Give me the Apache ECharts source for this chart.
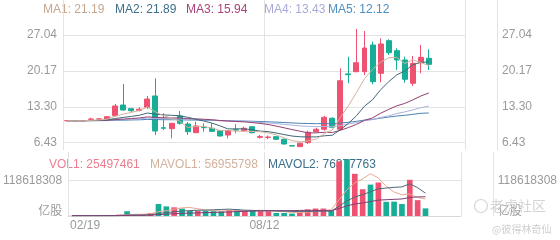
<!DOCTYPE html>
<html><head><meta charset="utf-8">
<script src="https://cdn.jsdelivr.net/npm/echarts@6/dist/echarts.min.js"></script>
<style>html,body{margin:0;padding:0;background:#fff}#c{width:560px;height:240px}</style>
</head><body><div id="c"></div>
<script>
// weekly categories
const dates = ['02/19','02/26','03/04','03/11','03/18','03/25','04/01','04/08','04/15','04/22',
  '04/29','05/06','05/13','05/20','05/27','06/03','06/10','06/17','06/24','07/01',
  '07/08','07/15','07/22','07/29','08/05','08/12','08/19','08/26','09/02','09/09',
  '09/16','09/23','09/30','10/07','10/14','10/21','10/28','11/04','11/11','11/18',
  '11/25','12/02','12/09','12/16','12/23','12/30','01/06','01/13','01/20','01/27'];

const opens  = [10.64,10.64,10.64,10.90,10.96,10.91,11.60,13.64,12.94,12.60,13.20,15.37,9.30,9.11,11.54,10.01,8.34,9.35,9.19,8.73,7.90,8.92,8.73,9.49,7.45,7.45,7.58,7.08,5.85,5.67,6.43,8.54,9.00,11.10,9.00,19.60,20.02,20.02,25.13,19.71,25.95,24.04,22.26,17.80,21.74,22.58];
const closes = [10.64,10.64,10.64,10.96,10.98,11.41,13.45,12.69,12.55,12.85,14.79,8.67,9.19,10.14,10.14,8.54,9.63,9.30,8.60,7.71,8.73,8.86,9.19,8.34,7.60,7.50,7.08,6.18,5.80,6.32,8.42,8.99,11.29,9.38,18.29,19.45,21.74,24.55,18.10,25.32,23.65,22.26,18.56,21.62,22.77,21.43];
const lows   = [10.64,10.64,10.64,10.75,10.85,10.85,11.50,12.55,12.30,12.40,12.90,7.90,8.86,7.27,9.90,7.90,8.34,8.54,8.50,7.60,7.27,8.23,8.50,8.20,7.20,7.10,7.00,6.10,5.70,5.60,6.18,8.40,8.73,9.19,8.86,17.80,19.90,19.39,17.61,17.99,23.21,20.34,17.90,17.28,19.71,20.34];
const highs  = [10.64,10.64,10.64,11.20,11.10,11.50,13.84,17.66,13.10,13.20,15.37,18.75,12.06,10.20,12.50,10.40,10.45,10.14,10.14,8.80,8.86,9.95,9.50,9.60,7.90,7.80,7.70,7.20,5.90,6.50,8.73,9.30,11.54,11.30,20.67,22.89,28.19,27.80,25.76,26.41,26.22,24.49,22.89,23.02,25.13,24.30];

// moving averages
const ma1 = [10.64,10.64,10.64,10.70,10.77,10.93,11.49,11.90,12.22,12.59,13.27,12.31,11.61,11.13,10.59,9.34,9.53,9.55,9.24,8.76,8.79,8.64,8.62,8.57,8.54,8.30,7.94,7.34,6.83,6.58,6.76,7.14,8.16,8.88,11.27,13.48,16.03,18.68,20.43,21.83,22.67,22.78,21.58,22.28,21.77,21.19];
const ma2 = [10.64,10.64,10.64,10.67,10.71,10.78,11.06,11.27,11.46,11.68,12.10,11.90,11.75,11.67,11.59,11.30,10.92,10.58,10.19,9.67,9.07,9.08,9.08,8.90,8.65,8.55,8.29,7.98,7.70,7.56,7.53,7.54,7.75,7.86,8.93,10.12,11.59,13.42,14.65,16.55,18.08,19.40,20.13,21.35,21.80,21.89];
const ma3 = [10.64,10.64,10.64,10.66,10.67,10.71,10.85,10.95,11.05,11.16,11.37,11.27,11.20,11.17,11.15,11.04,10.99,10.92,10.82,10.68,10.58,10.49,10.42,10.29,10.12,9.92,9.61,9.28,8.94,8.62,8.30,8.31,8.42,8.38,8.79,9.33,9.94,10.70,11.18,12.06,12.80,13.47,13.94,14.61,15.36,15.94];
const ma4 = [10.64,10.64,10.64,10.65,10.66,10.69,10.78,10.85,10.91,10.99,11.13,11.06,11.01,10.99,10.98,10.91,10.87,10.83,10.76,10.66,10.60,10.54,10.49,10.42,10.31,10.21,10.09,9.94,9.78,9.64,9.56,9.51,9.53,9.48,9.72,9.99,10.27,10.66,10.85,11.26,11.56,12.01,12.32,12.70,13.13,13.43];
const ma5 = [10.64,10.64,10.64,10.65,10.65,10.66,10.71,10.74,10.78,10.81,10.88,10.85,10.83,10.82,10.81,10.77,10.76,10.73,10.70,10.65,10.62,10.59,10.57,10.53,10.48,10.43,10.37,10.29,10.21,10.14,10.10,10.07,10.09,10.06,10.19,10.34,10.52,10.76,10.88,11.12,11.34,11.53,11.67,11.85,12.05,12.12];

// volumes in millions of shares
const VOL_UNIT = 1e6;
const volumes = [1,1,1,1.5,1.5,2,4.5,16,3,3.5,10,40,32,29,25,17,17,17,16,16,20,22,16,20,16,16,10,10,8,14,22,25,25,18,183,189,141,89.5,105,112,47.5,48,40,121,53,25.497461];
const mavol1 = [1,1,1,1.1,1.2,1.4,2.1,5.1,5.4,5.8,7.4,14.5,17.7,22.9,27.2,28.6,24,21,18.4,16.6,17.2,18.2,18,18.8,18.8,18,15.6,14.4,12,11.6,12.8,15.8,18.8,20.8,54.6,88,111.2,124.1,141.5,127.3,99,80.4,70.5,73.7,61.9,56.96];
const mavol2 = [1,1,1,1.05,1.1,1.2,1.55,3.05,3.25,3.5,4.4,8.3,11.4,14.2,16.5,18,19.3,19.4,20.7,21.9,22.9,21.1,19.5,18.6,17.7,17.6,16.9,16.2,15.4,15.2,15.4,15.7,16.6,16.4,33.1,50.4,63.5,71.5,81.2,91,93.5,95.8,97.3,107.6,94.6,76.38];
const mavol3 = [1,1,1,1.03,1.05,1.1,1.3,2.0,2.1,2.25,2.7,4.65,6.2,7.6,8.8,9.6,10.4,11.2,11.95,12.7,13.65,14.7,15.45,16.4,17.1,17.8,18.1,17.8,18.0,18.55,19.15,18.4,18.05,17.5,25.4,34,40.2,43.8,48.3,53.1,54.45,55.75,56.95,62,63.85,64.3];

const priceTicks = [6.43, 13.30, 20.17, 27.04];
const volTicks = [0, 118.618308];
const maNames = ['MA1','MA2','MA3','MA4','MA5'];
const maLast = ['21.19','21.89','15.94','13.43','12.12'];
const volNames = ['VOL1','MAVOL1','MAVOL2'];
const volLast = ['25497461','56955798','76377763'];

const FONT = '"Liberation Sans", Arial, "Noto Sans CJK SC", sans-serif';
const GRID_LINE = '#e3e3e3';
const UP = '#ef5271', DOWN = '#17ad96';
const LABEL = '#9a9a9a';
const maColors = ['#d3b29c','#3f6878','#943f70','#aab4de','#4b82b5'];
const maTextColors = ['#c6a78f','#3d6f8a','#a8437a','#a8aad8','#4b8fc4'];
const volTextColors = ['#ec7d8f','#d2b29b','#3b6f8a'];
const volLineColors = ['#e9a98f','#4c6878','#7c3f73'];

const chart = echarts.init(document.getElementById('c'));

const candleData = opens.map((o, i) => [o, closes[i], lows[i], highs[i]]);
const volData = volumes.map((v, i) => ({
  value: v, itemStyle: { color: closes[i] >= opens[i] ? UP : DOWN }
}));

function priceAxis(pos) {
  return {
    type: 'value', gridIndex: 0, position: pos, offset: pos === 'right' ? 32 : 0,
    min: 5.03, max: 33.74, scale: true,
    axisLine: { show: pos === 'right', lineStyle: { color: GRID_LINE } },
    axisTick: { show: false, customValues: priceTicks },
    axisLabel: { customValues: priceTicks, formatter: v => v.toFixed(2), color: LABEL,
      fontSize: 12, fontFamily: FONT, margin: pos === 'right' ? 5 : 6 },
    splitLine: { show: pos === 'left', lineStyle: { color: GRID_LINE } }
  };
}
function volAxis(pos) {
  return {
    type: 'value', gridIndex: 1, position: pos, offset: pos === 'right' ? 32 : 0,
    min: 0, max: 214,
    axisLine: { show: pos === 'right', lineStyle: { color: GRID_LINE } },
    axisTick: { show: false, customValues: volTicks },
    axisLabel: { customValues: volTicks,
      formatter: v => v === 0 ? '{u|亿股}' : String(Math.round(v * VOL_UNIT)),
      color: LABEL, fontSize: 12, fontFamily: FONT, margin: pos === 'right' ? 5 : 6,
      rich: { u: { color: LABEL, fontSize: 12, fontFamily: FONT, padding: [0, 0, 9, 0] } } },
    splitLine: { show: pos === 'left', lineStyle: { color: GRID_LINE } }
  };
}

const graphics = [];
const maX = [43, 115, 186, 264, 328];
maNames.forEach((n, k) => graphics.push({ type: 'text', z: 0,
  style: { text: n + ': ' + maLast[k], x: maX[k], y: 10, fill: maTextColors[k],
    font: '12px ' + FONT, verticalAlign: 'middle' } }));
const volX = [49, 150, 268];
volNames.forEach((n, k) => graphics.push({ type: 'text', z: 0,
  style: { text: n + ': ' + volLast[k], x: volX[k], y: 165, fill: volTextColors[k],
    font: '12px ' + FONT, verticalAlign: 'middle' } }));
graphics.push({ type: 'circle', z: 100, shape: { cx: 481, cy: 206, r: 6.5 },
  style: { fill: 'none', stroke: '#d6d6d6', lineWidth: 1.2 } });
graphics.push({ type: 'text', z: 100, style: { text: '老虎社区', x: 490, y: 206, fill: '#d4d4d4',
  font: '14px "Noto Sans CJK SC"', verticalAlign: 'middle' } });
graphics.push({ type: 'text', z: 100, style: { text: '@彼得林奇仙', x: 492, y: 229, fill: '#cfcfcf',
  font: '10px "Noto Sans CJK SC"', verticalAlign: 'middle' } });

const series = [{
  type: 'candlestick', xAxisIndex: 0, yAxisIndex: 0, data: candleData, barWidth: '68%',
  itemStyle: { color: UP, color0: DOWN, borderColor: UP, borderColor0: DOWN, borderWidth: 1 },
  z: 3
}];
[ma1, ma2, ma3, ma4, ma5].forEach((d, k) => series.push({
  type: 'line', xAxisIndex: 0, yAxisIndex: 0, data: d, showSymbol: false, smooth: false,
  lineStyle: { width: 1, color: maColors[k] }, z: 4 - k * 0.1
}));
series.push({ type: 'bar', xAxisIndex: 1, yAxisIndex: 2, data: volData, barWidth: '72%', z: 3 });
[mavol1, mavol2, mavol3].forEach((d, k) => series.push({
  type: 'line', xAxisIndex: 1, yAxisIndex: 2, data: d, showSymbol: false,
  lineStyle: { width: 1, color: volLineColors[k] }, z: 4
}));

const xRich = {
  L: { color: LABEL, fontSize: 12, fontFamily: FONT, padding: [0, 0, 0, 26] },
  R: { color: LABEL, fontSize: 12, fontFamily: FONT, padding: [0, 8, 0, 0] }
};

chart.setOption({
  animation: false,
  backgroundColor: '#fff',
  textStyle: { fontFamily: FONT },
  grid: [
    { left: 63, right: 95, top: 0, height: 150, containLabel: false },
    { left: 63, right: 95, top: 152, height: 64, containLabel: false }
  ],
  xAxis: [
    { type: 'category', gridIndex: 0, data: dates, boundaryGap: true,
      axisLine: { show: false }, axisTick: { show: false }, axisLabel: { show: false },
      splitLine: { show: true, interval: 24, lineStyle: { color: GRID_LINE } } },
    { type: 'category', gridIndex: 1, data: dates, boundaryGap: true,
      axisLine: { show: true, lineStyle: { color: '#d8d8d8' } }, axisTick: { show: false },
      axisLabel: { interval: 24, color: LABEL, fontSize: 12, fontFamily: FONT, margin: 4,
        formatter: (v, i) => i === 0 ? '{L|' + v + '}' : '{R|' + v + '}', rich: xRich },
      splitLine: { show: true, interval: 24, lineStyle: { color: GRID_LINE } } }
  ],
  yAxis: [priceAxis('left'), priceAxis('right'), volAxis('left'), volAxis('right')],
  graphic: graphics,
  series: series
});
</script></body></html>
